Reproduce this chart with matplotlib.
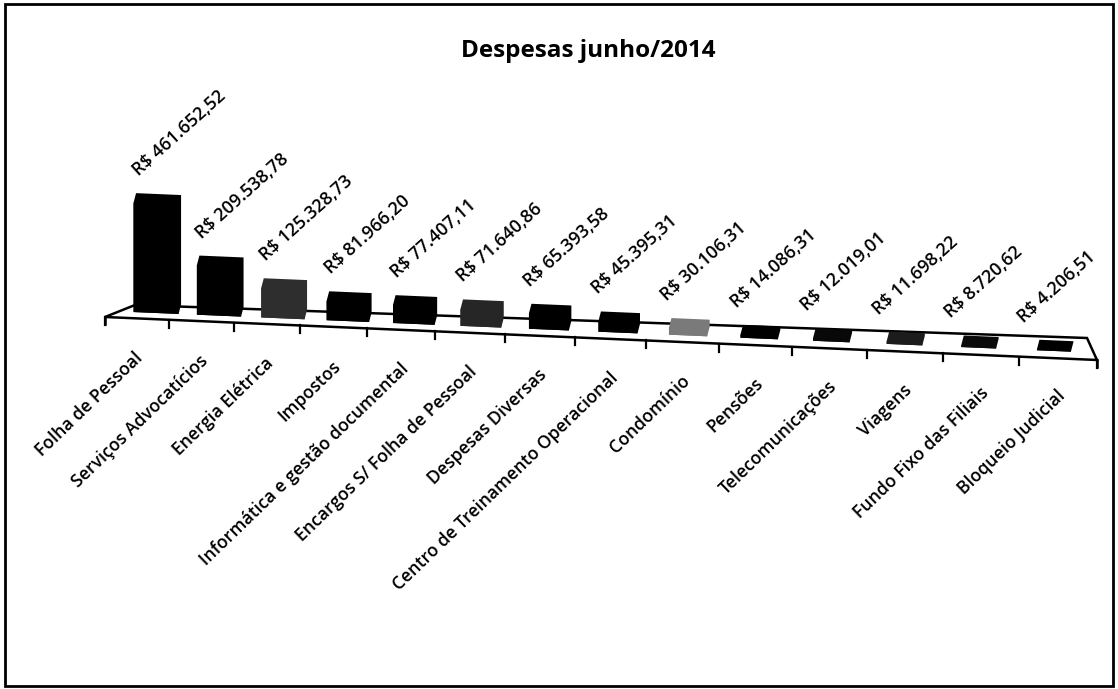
import numpy as np
import matplotlib
matplotlib.use("Agg")
import matplotlib.pyplot as plt
from matplotlib.transforms import Affine2D, IdentityTransform
from matplotlib.lines import Line2D
from matplotlib.patches import Polygon, Rectangle

# ---------------- data ----------------
categories = [
    "Folha de Pessoal", "Serviços Advocatícios", "Energia Elétrica", "Impostos",
    "Informática e gestão documental", "Encargos S/ Folha de Pessoal",
    "Despesas Diversas", "Centro de Treinamento Operacional", "Condomínio",
    "Pensões", "Telecomunicações", "Viagens", "Fundo Fixo das Filiais",
    "Bloqueio Judicial",
]
values = [461652.52, 209538.78, 125328.73, 81966.20, 77407.11, 71640.86,
          65393.58, 45395.31, 30106.31, 14086.31, 12019.01, 11698.22,
          8720.62, 4206.51]
value_labels = ["R$ 461.652,52", "R$ 209.538,78", "R$ 125.328,73", "R$ 81.966,20",
                "R$ 77.407,11", "R$ 71.640,86", "R$ 65.393,58", "R$ 45.395,31",
                "R$ 30.106,31", "R$ 14.086,31", "R$ 12.019,01", "R$ 11.698,22",
                "R$ 8.720,62", "R$ 4.206,51"]
title = "Despesas junho/2014"

# ---------------- layout / style ----------------
W, H, DPI = 1118, 689, 100
FONT = "Open Sans"
bar_colors = ["#000000", "#000000", "#2e2e2e", "#000000", "#000000", "#262626",
              "#000000", "#000000", "#7a7a7a", "#000000", "#080808", "#1c1c1c",
              "#0a0a0a", "#000000"]

fig = plt.figure(figsize=(W / DPI, H / DPI), dpi=DPI)
fig.patch.set_facecolor("white")
ax = fig.add_axes([0, 0, 1, 1])
ax.set_axis_off()

# perspective-like category scale: spacing grows slightly to the right
k = 0.00822
fwd = lambda x: np.asarray(x, dtype=float) + k * np.asarray(x, dtype=float) ** 2
inv = lambda f: (-1 + np.sqrt(np.maximum(1 + 4 * k * np.asarray(f, dtype=float), 1e-12))) / (2 * k)
ax.set_xscale("function", functions=(fwd, inv))
x0_pix, unit_pix = 156.0, 62.4
ax.set_xlim(float(inv(-x0_pix / unit_pix)), float(inv((W - x0_pix) / unit_pix)))
px_per_val = 0.237e-3
base_y = 376.0  # display y of the front-bottom of the first bar
ax.set_ylim(-base_y / px_per_val, (H - base_y) / px_per_val)

# slanted floor: shear in display space about the first bar's base
slope = 0.0423
shear = Affine2D().translate(-x0_pix, -base_y).skew(0, np.arctan(-slope)).translate(x0_pix, base_y)
tr = ax.transData + shear

n = len(values)
xs = np.arange(n)
px_w = 45 - 0.85 * xs
local = unit_pix * (1 + 2 * k * xs)
widths = px_w / local

# floor (drawn in pixel coords; y measured from the top)
ident = IdentityTransform()
def P(x, ytop):
    return (x, H - ytop)

ax.add_patch(Polygon([P(105, 317), P(135, 305), P(1087, 338), P(1097, 360)],
                     closed=True, facecolor="white", edgecolor="black", lw=1.8,
                     transform=ident, zorder=1, clip_on=False))
ax.add_line(Line2D([105, 105], [H - 317, H - 324], color="black", lw=1.8,
                   transform=ident, zorder=1, clip_on=False))
ax.add_line(Line2D([1097, 1097], [H - 360, H - 367], color="black", lw=1.8,
                   transform=ident, zorder=1, clip_on=False))
for j in range(15):
    tx = 105 + 63.43 * j + 0.531 * j * j
    ty = 317 + 0.0433 * (tx - 105)
    ax.add_line(Line2D([tx, tx], [H - ty, H - ty - 8], color="black", lw=1.6,
                       transform=ident, zorder=1, clip_on=False))

# front faces of the bars
ax.bar(xs, values, width=widths, color=bar_colors, transform=tr, zorder=4)

# 3D extrusion (top + side) derived from each bar's transformed corners
depth = np.array([2.5, 9.5])
for i in range(n):
    corners = np.array([[xs[i] - widths[i] / 2, 0], [xs[i] + widths[i] / 2, 0],
                        [xs[i] + widths[i] / 2, values[i]], [xs[i] - widths[i] / 2, values[i]]])
    bl, br, trc, tl = tr.transform(corners)
    box = [bl, br, br + depth, trc + depth, tl + depth, tl]
    ax.add_patch(Polygon(box, closed=True, facecolor=bar_colors[i], edgecolor="none",
                         transform=ident, zorder=3, clip_on=False))

# value labels
for i in range(n):
    ldx = 5 - 0.11 * i * i
    ax.text(xs[i] - widths[i] / 2, values[i], value_labels[i],
            transform=tr + Affine2D().translate(ldx, 26),
            rotation=42, rotation_mode="anchor", ha="left", va="baseline",
            fontsize=13, family=FONT, fontweight="semibold", color="black", zorder=5)

# category labels
for i in range(n):
    dx = -22 + 1.9 * i
    ax.text(xs[i], 0, categories[i], transform=tr + Affine2D().translate(dx, -36),
            rotation=44, rotation_mode="anchor", ha="right", va="top",
            fontsize=12.7, family=FONT, fontweight="semibold", color="black", zorder=5)

fig.text(588 / W, 1 - 51 / H, title, ha="center", va="center",
         fontsize=17.5, fontweight="bold", family=FONT)

# border around the chart area
fig.patches.append(Rectangle((5, 3), W - 10, H - 7, transform=None, fill=False,
                             edgecolor="black", lw=2.0))

fig.savefig("out.png", dpi=DPI, facecolor="white")
